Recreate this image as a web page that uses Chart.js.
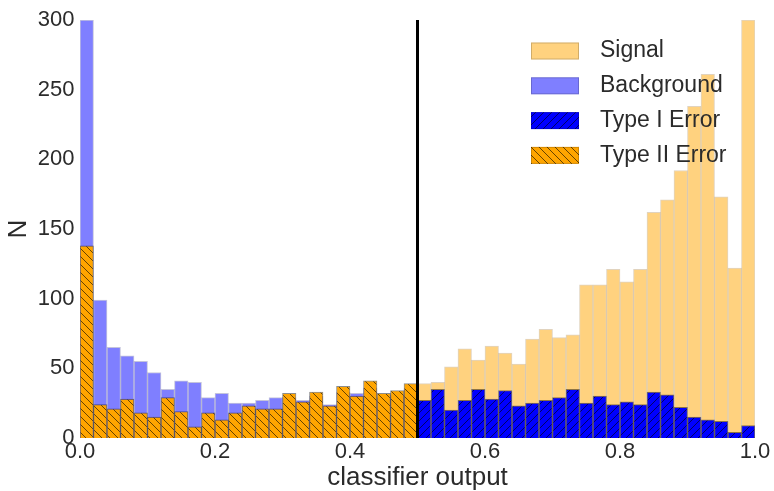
<!DOCTYPE html>
<html>
<head>
<meta charset="utf-8">
<script src="https://cdn.jsdelivr.net/npm/chart.js@4.4.1/dist/chart.umd.min.js"></script>
<style>
  html, body { margin: 0; padding: 0; background: #ffffff; }
  #wrap { width: 774px; height: 491px; position: relative; }
</style>
</head>
<body>
<div id="wrap"><canvas id="c" width="774" height="491"></canvas></div>
<script>
// ---- data ----
const leftBinCenters = [0.01, 0.03, 0.05, 0.07, 0.09, 0.11, 0.13, 0.15, 0.17, 0.19,
  0.21, 0.23, 0.25, 0.27, 0.29, 0.31, 0.33, 0.35, 0.37, 0.39,
  0.41, 0.43, 0.45, 0.47, 0.49];
const rightBinCenters = [0.51, 0.53, 0.55, 0.57, 0.59, 0.61, 0.63, 0.65, 0.67, 0.69,
  0.71, 0.73, 0.75, 0.77, 0.79, 0.81, 0.83, 0.85, 0.87, 0.89,
  0.91, 0.93, 0.95, 0.97, 0.99];
const backgroundCounts = [300, 99, 65, 59, 55, 47, 35, 41, 40, 29,
  32, 25, 25, 27, 29, 29, 27, 30, 24, 33,
  32, 36, 29, 31, 35];
const typeIICounts = [138, 24, 21, 28, 18, 15, 29, 19, 8, 18,
  13, 18, 23, 21, 21, 32, 26, 33, 23, 37,
  30, 41, 32, 34, 39];
const signalCounts = [39, 40, 51, 64, 56, 66, 61, 53, 71, 78,
  72, 74, 110, 110, 121, 112, 121, 162, 171, 192,
  238, 261, 173, 122, 300];
const typeICounts = [27, 35, 20, 27, 35, 28, 34, 23, 25, 27,
  29, 35, 25, 30, 24, 26, 24, 33, 31, 22,
  15, 13, 12, 4, 9];
const xTickValues = [0, 0.2, 0.4, 0.6, 0.8, 1.0];
const yTickValues = [0, 50, 100, 150, 200, 250, 300];
const seriesNames = ['Signal', 'Background', 'Type I Error', 'Type II Error'];
const threshold = 0.5;

// ---- helpers ----
function hatch(bg, dir) {
  const s = 8;
  const c = document.createElement('canvas');
  c.width = s; c.height = s;
  const g = c.getContext('2d');
  g.fillStyle = bg;
  g.fillRect(0, 0, s, s);
  g.strokeStyle = 'rgba(0,0,0,0.75)';
  g.lineWidth = 0.8;
  g.beginPath();
  for (let k = -1; k <= 1; k++) {
    if (dir === 'back') { g.moveTo(k * s, 0); g.lineTo(k * s + s, s); }
    else { g.moveTo(k * s, s); g.lineTo(k * s + s, 0); }
  }
  g.stroke();
  return g.createPattern(c, 'repeat');
}
function pts(xs, ys) { return xs.map((x, i) => ({ x: x, y: ys[i] })); }

const TEXT = '#2b2b2b';
const FONT = '"Liberation Sans", Arial, sans-serif';
const typeIPattern = hatch('#0000ff', 'fwd');
const typeIIPattern = hatch('#ffa500', 'back');

const thresholdLine = {
  id: 'thresholdLine',
  afterDatasetsDraw(chart) {
    const { ctx, chartArea, scales } = chart;
    const x = scales.x.getPixelForValue(threshold);
    ctx.save();
    ctx.strokeStyle = '#000';
    ctx.lineWidth = 3;
    ctx.beginPath();
    ctx.moveTo(x, chartArea.top);
    ctx.lineTo(x, chartArea.bottom);
    ctx.stroke();
    ctx.restore();
  }
};

const customLegend = {
  id: 'customLegend',
  afterDraw(chart) {
    const ctx = chart.ctx;
    ctx.save();
    chart.data.datasets.forEach((ds, i) => {
      const yc = 51 + 34.8 * i;
      ctx.fillStyle = ds.backgroundColor;
      ctx.fillRect(531, yc - 8.5, 48, 17);
      ctx.strokeStyle = 'rgba(0,0,0,0.18)';
      ctx.lineWidth = 1;
      ctx.strokeRect(531.5, yc - 8, 47, 16);
      ctx.fillStyle = TEXT;
      ctx.font = '23px ' + FONT;
      ctx.textAlign = 'left';
      ctx.textBaseline = 'middle';
      ctx.fillText(ds.label, 600, yc);
    });
    ctx.restore();
  }
};

new Chart(document.getElementById('c'), {
  type: 'bar',
  data: {
    datasets: [
      { label: seriesNames[0], data: pts(rightBinCenters, signalCounts), backgroundColor: '#ffd27f',
        borderColor: 'rgba(170,130,70,0.35)', borderWidth: 1, order: 2 },
      { label: seriesNames[1], data: pts(leftBinCenters, backgroundCounts), backgroundColor: '#7f7fff',
        borderColor: 'rgba(60,60,140,0.3)', borderWidth: 1, order: 2 },
      { label: seriesNames[2], data: pts(rightBinCenters, typeICounts), backgroundColor: typeIPattern,
        borderColor: 'rgba(0,0,0,0.45)', borderWidth: 1, order: 1 },
      { label: seriesNames[3], data: pts(leftBinCenters, typeIICounts), backgroundColor: typeIIPattern,
        borderColor: 'rgba(0,0,0,0.45)', borderWidth: 1, order: 1 }
    ]
  },
  options: {
    responsive: false,
    animation: false,
    events: [],
    grouped: false,
    datasets: { bar: { grouped: false, barPercentage: 1, categoryPercentage: 1, borderSkipped: 'start' } },
    layout: { padding: { left: 0, top: 20, right: 19, bottom: 0 } },
    plugins: { legend: { display: false }, tooltip: { enabled: false } },
    scales: {
      x: {
        type: 'linear', min: 0, max: 1, offset: false,
        grid: { display: false, drawTicks: false },
        border: { display: false },
        afterBuildTicks(scale) { scale.ticks = xTickValues.map(v => ({ value: v })); },
        ticks: { color: TEXT, font: { size: 22, family: FONT }, padding: 1,
          maxRotation: 0, autoSkip: false, callback: (v) => Number(v).toFixed(1) },
        title: { display: true, text: 'classifier output', color: TEXT,
          font: { size: 26, family: FONT, lineHeight: 1 }, padding: { top: 0, bottom: 0 } },
        afterFit(scale) { scale.height = 53; }
      },
      y: {
        min: 0, max: 300,
        grid: { display: false, drawTicks: false },
        border: { display: false },
        afterBuildTicks(scale) { scale.ticks = yTickValues.map(v => ({ value: v })); },
        ticks: { color: TEXT, font: { size: 22, family: FONT }, padding: 5.5 },
        title: { display: true, text: 'N', color: TEXT,
          font: { size: 26, family: FONT, lineHeight: 1 }, padding: { top: 6, bottom: 0 } },
        afterFit(scale) { scale.width = 80; }
      }
    }
  },
  plugins: [thresholdLine, customLegend]
});
</script>
</body>
</html>
